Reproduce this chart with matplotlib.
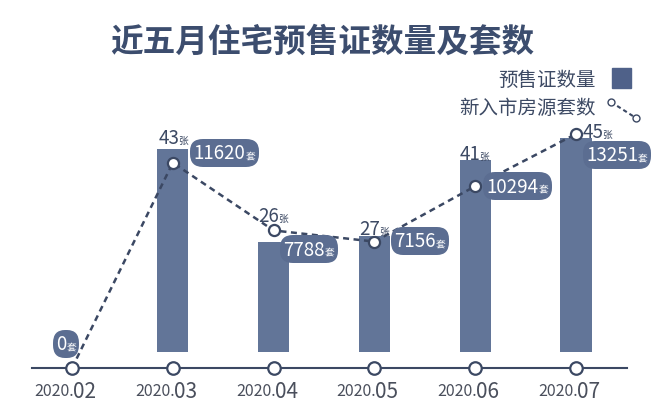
import numpy as np
import matplotlib.pyplot as plt
from matplotlib.offsetbox import TextArea, HPacker, AnnotationBbox
from matplotlib.lines import Line2D

plt.rcParams['font.family'] = ['Noto Sans CJK SC', 'DejaVu Sans']

# data
months = ['02', '03', '04', '05', '06', '07']
year = '2020.'
permits = [0, 43, 26, 27, 41, 45]          # 预售证数量 (张)
units = [0, 11620, 7788, 7156, 10294, 13251]  # 新入市房源套数 (套)

# label placement (pixels) - purely cosmetic
bar_lbl_off = [None, (-14, 11), (-15, 26), (-15, 8), (-16, 6), (7, 6)]
pill_off = [(-16, 24), (21, 10), (10, -19), (20, 1), (11, 0), (10, -21)]

bar_c = '#627598'
dark = '#3b4863'
pill_c = '#5b6d91'
txt_c = '#3d4a64'

fig = plt.figure(figsize=(6.6, 4.06), dpi=100)
xl = (-72 / 100.8, (660 - 72) / 100.8)
x = np.arange(len(months))

# bar axes: truncated value axis, bars end just above the baseline
ax = fig.add_axes([0, 53 / 406, 1, 253 / 406])
ax.set_xlim(*xl)
ax.set_ylim(5.85, 5.85 + 253 / 5.47)
ax.bar(x, permits, width=0.31, color=bar_c, zorder=2)
ax.axis('off')

# line axes
ax2 = fig.add_axes([0, 37 / 406, 1, 269 / 406])
ax2.set_xlim(*xl)
ax2.set_ylim(0, 15230)
ax2.axis('off')
ax2.patch.set_alpha(0)

# baseline with circles
ax2.plot([-0.397, 5.506], [0, 0], transform=ax2.get_xaxis_transform(),
         color=dark, lw=1.5, clip_on=False, zorder=1)
ax2.plot(x, np.zeros(len(x)), 'o', transform=ax2.get_xaxis_transform(),
         ms=9, mfc='white', mec=dark, mew=1.6, clip_on=False, zorder=4)

# dashed line of units
ax2.plot(x, units, color=dark, lw=1.8, dashes=(2.4, 1.8), zorder=3)
ax2.plot(x[1:], units[1:], 'o', ms=8, mfc='white', mec=dark, mew=1.6, zorder=4)

# month labels
for i, m in enumerate(months):
    ax2.annotate(year, (i, 0), xycoords=ax2.get_xaxis_transform(),
                 xytext=(2, -23), textcoords='offset pixels', ha='right',
                 va='center', fontsize=11.5, color='#4a4f5c')
    ax2.annotate(m, (i, 0), xycoords=ax2.get_xaxis_transform(),
                 xytext=(1, -23), textcoords='offset pixels', ha='left',
                 va='center', fontsize=15, color='#4a4f5c')

# bar value labels
for i, v in enumerate(permits):
    if bar_lbl_off[i] is None:
        continue
    pk = HPacker(children=[TextArea(str(v), textprops=dict(fontsize=13.5, color=txt_c)),
                           TextArea('张', textprops=dict(fontsize=7, color=txt_c))],
                 align='baseline', pad=0, sep=-1)
    ab = AnnotationBbox(pk, (i, v), xybox=bar_lbl_off[i], boxcoords='offset pixels',
                        box_alignment=(0, 0.5), frameon=False, xycoords='data',
                        pad=0, annotation_clip=False)
    ax.add_artist(ab)

# pill labels for units
for i, u in enumerate(units):
    pk = HPacker(children=[TextArea(str(u), textprops=dict(fontsize=13.5, color='white')),
                           TextArea('套', textprops=dict(fontsize=7, color='white'))],
                 align='baseline', pad=0, sep=0)
    ab = AnnotationBbox(pk, (i, u), xybox=pill_off[i], boxcoords='offset pixels',
                        box_alignment=(0, 0.5), frameon=True, pad=0.12,
                        bboxprops=dict(boxstyle='round,pad=0.25,rounding_size=0.9',
                                       fc=pill_c, ec='none'),
                        annotation_clip=False, zorder=5)
    ax2.add_artist(ab)

# title
fig.text(0.488, 1 - 42 / 406, '近五月住宅预售证数量及套数', ha='center', va='center',
         fontsize=23.5, fontweight='bold', color='#3c4d6e')

# legend
fig.text(596 / 660, 1 - 80 / 406, '预售证数量', ha='right', va='center',
         fontsize=14, color=txt_c)
fig.text(596 / 660, 1 - 109 / 406, '新入市房源套数', ha='right', va='center',
         fontsize=14, color=txt_c)
fig.patches.append(plt.Rectangle((612 / 660, 1 - 89 / 406), 19 / 660, 20 / 406,
                                 transform=fig.transFigure, color='#4f6189'))
lx = [611 / 660, 636 / 660]
ly = [1 - 103 / 406, 1 - 119 / 406]
fig.add_artist(Line2D(lx, ly, transform=fig.transFigure, color=dark, lw=1.5,
                      dashes=(2, 1.5)))
fig.add_artist(Line2D(lx, ly, transform=fig.transFigure, ls='none', marker='o',
                      ms=5, mfc='white', mec=dark, mew=1))

fig.savefig('out.png', dpi=100)
